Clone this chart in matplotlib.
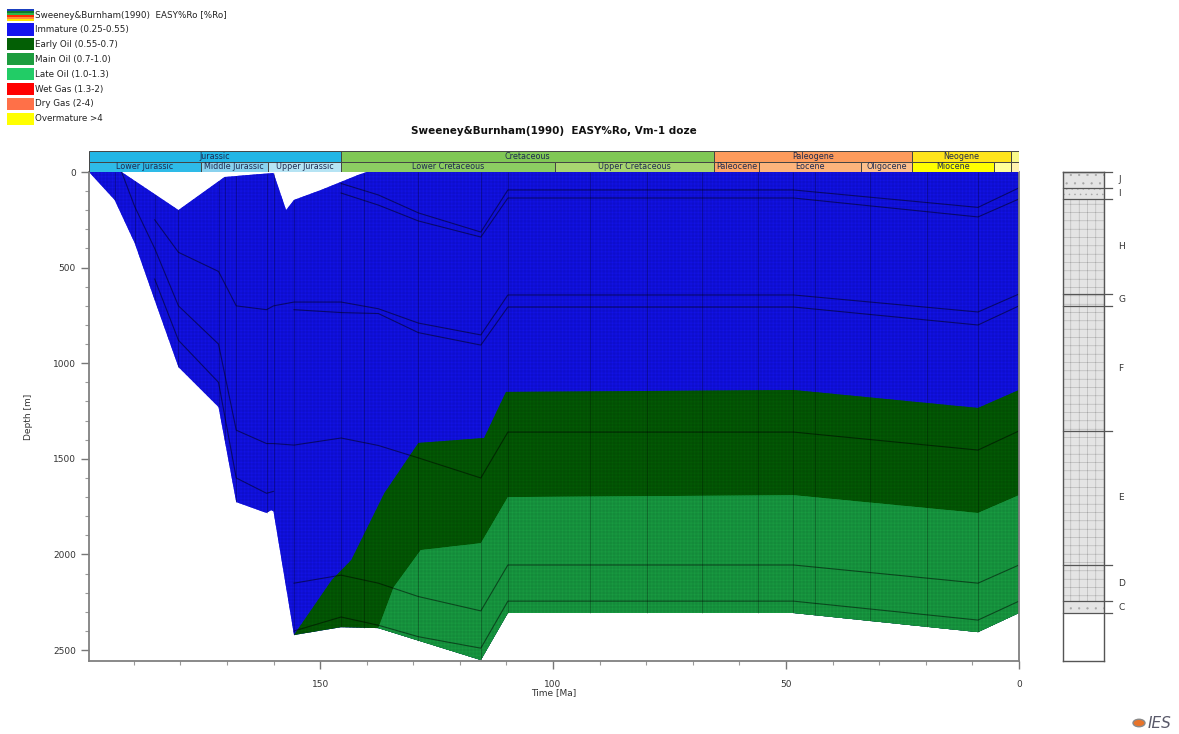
import numpy as np
import matplotlib
matplotlib.use("Agg")
import matplotlib.pyplot as plt
from matplotlib.patches import Rectangle, Circle

nan = np.nan

# --- burial model: surface, basement and Ro iso-lines (time in Ma, depth in m)
top_time  = [199.6, 192.6, 180.4, 170.5, 160.0, 157.3, 155.6, 149.8, 141.9, 140.0, 0.0]
top_depth = [0, 0, 199, 26, 5, 199, 146, 94, 16, 0, 0]

base_time  = [199.6, 194.1, 189.8, 185.5, 180.4, 171.8, 168.0, 161.5, 160.5, 160.0,
              155.6, 145.5, 137.5, 115.5, 109.7, 48.4, 8.8, 0.0]
base_depth = [0, 146, 371, 670, 1020, 1229, 1726, 1783, 1768, 1775,
              2421, 2380, 2385, 2552, 2306, 2306, 2406, 2306]

ro055_time  = [155.6, 147.5, 143.3, 136.2, 128.9, 114.8, 110.1, 48.4, 8.8, 0.0]
ro055_depth = [2421, 2134, 2029, 1679, 1417, 1391, 1150, 1140, 1234, 1140]

ro07_time  = [137.5, 134.2, 128.4, 115.5, 109.7, 48.4, 8.8, 0.0]
ro07_depth = [2385, 2171, 1977, 1941, 1700, 1690, 1783, 1690]

# horizon depths at the model time steps
node_time = [199.6, 192.6, 189.8, 185.5, 180.4, 171.8, 168.0, 161.5, 160.0,
             155.6, 145.5, 137.5, 128.9, 115.5, 109.7, 48.4, 8.8, 0.0]
hz_top_i = [nan] * 10 + [60, 120, 214, 314, 94, 94, 185, 83]
hz_top_h = [nan] * 10 + [110, 173, 256, 340, 136, 136, 235, 141]
hz_top_g = [nan, nan, nan, 250, 420, 520, 700, 720, 700,
            680, 680, 715, 790, 852, 643, 643, 732, 638]
hz_top_f = [nan] * 9 + [720, 735, 740, 840, 905, 706, 706, 800, 700]
hz_top_e = [nan, 0, 180, 400, 700, 900, 1350, 1420, 1420,
            1428, 1391, 1430, 1495, 1600, 1360, 1360, 1454, 1354]
hz_top_d = [nan] * 9 + [2150, 2108, 2150, 2220, 2295, 2055, 2055, 2150, 2055]
hz_top_c = [nan] * 9 + [2400, 2327, 2370, 2430, 2490, 2244, 2244, 2343, 2244]
hz_jur   = [nan, nan, nan, 560, 880, 1100, 1600, 1680, 1670] + [nan] * 9

step_time = [199.6, 194.1, 189.8, 185.5, 180.4, 171.8, 170.5, 168.0, 161.5, 160.0,
             155.6, 145.5, 140.6, 128.9, 115.5, 109.7, 92.0, 79.8, 68.0, 56.0,
             48.4, 43.8, 32.0, 19.8, 8.8, 0.0]

# --- maturity legend
legend_labels = ["Immature (0.25-0.55)", "Early Oil (0.55-0.7)", "Main Oil (0.7-1.0)",
                 "Late Oil (1.0-1.3)", "Wet Gas (1.3-2)", "Dry Gas (2-4)", "Overmature >4"]
legend_colors = ["#1414ee", "#035f05", "#1c9c3e", "#22cc66", "#ff0000", "#ff7048", "#ffff00"]

# --- stratigraphic time scale (Ma)
period_names  = ["Jurassic", "Cretaceous", "Paleogene", "Neogene", ""]
period_bounds = [199.6, 145.5, 65.5, 23.03, 1.806, 0.0]
period_colors = ["#22b6e6", "#80c856", "#fd9b5c", "#ffe41c", "#f9f98a"]

epoch_names  = ["Lower Jurassic", "Middle Jurassic", "Upper Jurassic", "Lower Cretaceous",
                "Upper Cretaceous", "Paleocene", "Eocene", "Oligocene", "Miocene", "", ""]
epoch_bounds = [199.6, 175.6, 161.2, 145.5, 99.6, 65.5, 55.8, 33.9, 23.03, 5.332, 1.806, 0.0]
epoch_colors = ["#2ebbe8", "#8ad2ee", "#b6e4f4", "#8ccd62", "#a8d670", "#fda768",
                "#fdb47c", "#fdc08c", "#ffff00", "#ffff99", "#fff2ae"]

# --- present-day lithology column
lith_names  = ["J", "I", "H", "G", "F", "E", "D", "C"]
lith_tops   = [0, 83, 141, 638, 700, 1354, 2055, 2244]
lith_base   = 2306
lith_hatch  = ["..", "...", "++", "++", "++", "++", "++", ".."]

T_MAX, D_MAX = 199.6, 2557

plt.rcParams["font.family"] = ["DejaVu Sans"]
plt.rcParams["hatch.linewidth"] = 0.35

fig = plt.figure(figsize=(11.79, 7.34), dpi=100)
W, H = 1179, 734


def fig_rect(x0, y0, x1, y1):
    # pixel box (top-left origin) -> figure fraction
    return [x0 / W, 1 - y1 / H, (x1 - x0) / W, (y1 - y0) / H]


def interp(t, d, grid):
    t = np.asarray(t, float)[::-1]
    d = np.asarray(d, float)[::-1]
    return np.interp(grid, t, d)


ax = fig.add_axes(fig_rect(89, 172, 1019, 661))

# whole sediment column, then oil windows on top of it
grid = np.unique(np.concatenate([top_time, base_time]))
ax.fill_between(grid, interp(top_time, top_depth, grid), interp(base_time, base_depth, grid),
                facecolor="#1414ee", edgecolor="#0e0ecc", hatch="+" * 12, linewidth=0)

grid = np.unique(np.concatenate([ro055_time, [t for t in base_time if t <= ro055_time[0]]]))
ax.fill_between(grid, interp(ro055_time, ro055_depth, grid), interp(base_time, base_depth, grid),
                facecolor="#035f05", edgecolor="#024e03", hatch="+" * 12, linewidth=0)

grid = np.unique(np.concatenate([ro07_time, [t for t in base_time if t <= ro07_time[0]]]))
ax.fill_between(grid, interp(ro07_time, ro07_depth, grid), interp(base_time, base_depth, grid),
                facecolor="#1aa043", edgecolor="#148a3a", hatch="+" * 12, linewidth=0)

# time-step verticals
st = np.array(step_time)
ax.vlines(st, interp(top_time, top_depth, st), interp(base_time, base_depth, st),
          colors="black", linewidth=0.6, alpha=0.3)

# horizons
for hz in [hz_top_i, hz_top_h, hz_top_g, hz_top_f, hz_top_e, hz_top_d, hz_top_c, hz_jur]:
    ax.plot(node_time, hz, color="black", linewidth=0.8, alpha=0.5)

ax.set_xlim(T_MAX, 0)
ax.set_ylim(D_MAX, 0)
ax.set_xticks([150, 100, 50, 0])
ax.set_xticks(np.arange(190, 0, -10), minor=True)
ax.set_yticks([0, 500, 1000, 1500, 2000, 2500])
ax.set_yticks(np.arange(100, 2557, 100), minor=True)
ax.tick_params(which="major", length=6, width=1, color="#777777", labelsize=6.5,
               labelcolor="#333333", direction="out")
ax.tick_params(which="minor", length=3, width=0.8, color="#999999", direction="out")
ax.tick_params(axis="x", pad=8)
for side in ["left", "bottom", "right"]:
    ax.spines[side].set_color("#808080")
    ax.spines[side].set_linewidth(1.3)
ax.spines["top"].set_visible(False)
ax.set_xlabel("Time [Ma]", fontsize=6.5, color="#333333", labelpad=-1)
ax.set_ylabel("Depth [m]", fontsize=6.5, color="#333333", labelpad=14)

# time scale bar
ax_ts = fig.add_axes(fig_rect(89, 151, 1019, 172))
ax_ts.set_xlim(T_MAX, 0)
ax_ts.set_ylim(0, 2)
ax_ts.axis("off")
for name, t0, t1, c in zip(period_names, period_bounds[:-1], period_bounds[1:], period_colors):
    ax_ts.add_patch(Rectangle((t1, 1), t0 - t1, 1, facecolor=c, edgecolor="#444444", linewidth=0.7))
    ax_ts.text((t0 + t1) / 2, 1.5, name, ha="center", va="center", fontsize=5.8, color="#1e2a50")
for name, t0, t1, c in zip(epoch_names, epoch_bounds[:-1], epoch_bounds[1:], epoch_colors):
    ax_ts.add_patch(Rectangle((t1, 0), t0 - t1, 1, facecolor=c, edgecolor="#444444", linewidth=0.7))
    ax_ts.text((t0 + t1) / 2, 0.5, name, ha="center", va="center", fontsize=5.8, color="#1e2a50")

# lithology column
ax_l = fig.add_axes(fig_rect(1063, 172, 1104, 661))
ax_l.set_xlim(0, 1)
ax_l.set_ylim(D_MAX, 0)
ax_l.set_xticks([])
ax_l.set_yticks([])
for s in ax_l.spines.values():
    s.set_color("#555555")
    s.set_linewidth(1.0)
bottoms = lith_tops[1:] + [lith_base]
for name, d0, d1, h in zip(lith_names, lith_tops, bottoms, lith_hatch):
    ax_l.add_patch(Rectangle((0, d0), 1, d1 - d0, facecolor="#e4e4e4", edgecolor="#a6a6a6",
                             hatch=h, linewidth=0))
    ax_l.plot([0, 1.2], [d1, d1], color="#555555", linewidth=0.9, clip_on=False)
    ax_l.text(1.35, (d0 + d1) / 2, name, ha="left", va="center", fontsize=6.5, color="#333333",
              clip_on=False)
ax_l.plot([0, 1.2], [0, 0], color="#555555", linewidth=0.9, clip_on=False)

fig.text(554 / W, 1 - 131 / H, "Sweeney&Burnham(1990)  EASY%Ro, Vm-1 doze",
         ha="center", va="center", fontsize=7.5, fontweight="bold", color="#111111")

# maturity legend (top left)
sw_x, sw_w, sw_h = 7 / W, 27 / W, 12 / H
y0 = 1 - 15 / H
stripe_colors = ["#1a3fc0", "#0f7a2a", "#2bb54a", "#ff2a00", "#ff8a3a", "#ffe400"]
for i, c in enumerate(stripe_colors):
    fig.patches.append(Rectangle((sw_x, y0 + sw_h / 2 - (i + 1) * sw_h / len(stripe_colors)),
                                 sw_w, sw_h / len(stripe_colors), facecolor=c, linewidth=0,
                                 transform=fig.transFigure))
fig.text(35 / W, y0, "Sweeney&Burnham(1990)  EASY%Ro [%Ro]", fontsize=6.3, va="center",
         color="#222222")
for i, (lab, c) in enumerate(zip(legend_labels, legend_colors)):
    yc = 1 - (29.5 + i * 14.9) / H
    fig.patches.append(Rectangle((sw_x, yc - sw_h / 2), sw_w, sw_h, facecolor=c, linewidth=0,
                                 transform=fig.transFigure))
    fig.text(35 / W, yc, lab, fontsize=6.3, va="center", color="#222222")

# IES mark
fig.patches.append(Circle((1139 / W, 1 - 723 / H), 6 / W, facecolor="#e8742a",
                          edgecolor="#8a8a8a", linewidth=1.0, transform=fig.transFigure))
fig.text(1148 / W, 1 - 723 / H, "IES", fontsize=11, style="italic", color="#5a5a6a",
         va="center", ha="left")

fig.savefig("out.png", dpi=100)
